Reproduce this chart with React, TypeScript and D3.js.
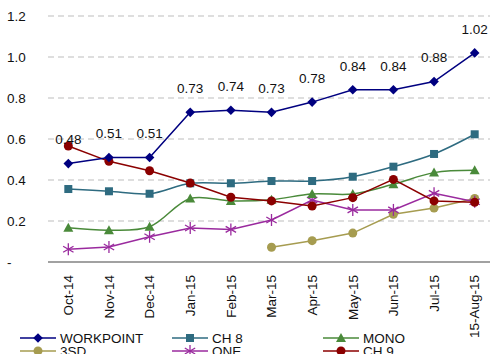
import React from "react";
import * as d3 from "d3";

const categories = ["Oct-14", "Nov-14", "Dec-14", "Jan-15", "Feb-15", "Mar-15", "Apr-15", "May-15", "Jun-15", "Jul-15", "15-Aug-15"];
const workpoint = [0.48, 0.51, 0.51, 0.73, 0.74, 0.73, 0.78, 0.84, 0.84, 0.88, 1.02];
const ch8 = [0.356, 0.345, 0.333, 0.384, 0.384, 0.395, 0.395, 0.416, 0.465, 0.527, 0.623];
const mono = [0.167, 0.155, 0.172, 0.31, 0.298, 0.304, 0.332, 0.332, 0.379, 0.436, 0.447];
const sd3: (number | null)[] = [null, null, null, null, null, 0.072, 0.104, 0.141, 0.233, 0.263, 0.31];
const one = [0.062, 0.073, 0.123, 0.166, 0.159, 0.205, 0.302, 0.254, 0.254, 0.335, 0.294];
const ch9 = [0.566, 0.491, 0.445, 0.385, 0.316, 0.298, 0.273, 0.314, 0.403, 0.298, 0.291];
const yTicks = [0, 0.2, 0.4, 0.6, 0.8, 1.0, 1.2];
const yTickLabels = ["-", "0.2", "0.4", "0.6", "0.8", "1.0", "1.2"];

type Marker = "diamond" | "square" | "triangle" | "circle" | "star";
interface Series { name: string; values: (number | null)[]; color: string; marker: Marker; smooth: boolean; }

const series: Series[] = [
  { name: "3SD", values: sd3, color: "#A69C50", marker: "circle", smooth: false },
  { name: "ONE", values: one, color: "#9A2A9E", marker: "star", smooth: false },
  { name: "MONO", values: mono, color: "#4A8A3A", marker: "triangle", smooth: true },
  { name: "CH 8", values: ch8, color: "#2E6B80", marker: "square", smooth: true },
  { name: "CH 9", values: ch9, color: "#8B0000", marker: "circle", smooth: false },
  { name: "WORKPOINT", values: workpoint, color: "#000080", marker: "diamond", smooth: false },
];

const legendOrder = ["WORKPOINT", "CH 8", "MONO", "3SD", "ONE", "CH 9"];

const W = 490, H = 354;
const left = 48, right = 495, y0 = 262, yTop = 16;
const font = "'Liberation Sans', Arial, sans-serif";
const fs = 13.5;

function MarkerShape({ type, x, y, color }: { type: Marker; x: number; y: number; color: string }) {
  switch (type) {
    case "diamond":
      return <path d={`M${x},${y - 4.8}L${x + 4.8},${y}L${x},${y + 4.8}L${x - 4.8},${y}Z`} fill={color} />;
    case "square":
      return <rect x={x - 4} y={y - 4} width={8} height={8} fill={color} />;
    case "triangle":
      return <path d={`M${x},${y - 5}L${x + 5},${y + 4}L${x - 5},${y + 4}Z`} fill={color} />;
    case "circle":
      return <circle cx={x} cy={y} r={4.5} fill={color} />;
    case "star":
      return (
        <g stroke={color} strokeWidth={1.3}>
          <line x1={x} y1={y - 6} x2={x} y2={y + 6} />
          <line x1={x - 5.2} y1={y - 3} x2={x + 5.2} y2={y + 3} />
          <line x1={x - 5.2} y1={y + 3} x2={x + 5.2} y2={y - 3} />
        </g>
      );
  }
}

export default function App() {
  const x = d3.scaleBand<string>().domain(categories).range([left, right]);
  const y = d3.scaleLinear().domain([0, 1.2]).range([y0, yTop]);
  const cx = (c: string) => (x(c) as number) + x.bandwidth() / 2;

  return (
    <svg width={W} height={H} style={{ position: "absolute", left: 0, top: 0, background: "#fff" }} fontFamily={font}>
      {yTicks.map((t, i) => (
        <g key={t}>
          {t > 0 && (
            <line x1={left} x2={W} y1={y(t)} y2={y(t)} stroke="#bdbdbd" strokeWidth={1} strokeDasharray="6,4" />
          )}
          <text x={7} y={y(t)} dy="0.35em" fontSize={fs} fill="#111">{yTickLabels[i]}</text>
        </g>
      ))}
      <line x1={left} x2={W} y1={y0} y2={y0} stroke="#444" strokeWidth={1.2} />
      {categories.map((c) => (
        <text key={c} transform={`translate(${cx(c)},${y0 + 13}) rotate(-90)`} textAnchor="end" dy="0.35em" fontSize={fs} fill="#111">{c}</text>
      ))}
      {series.map((s) => {
        const pts = categories.map((c, i) => [cx(c), s.values[i]] as [number, number | null]);
        const line = d3.line<[number, number | null]>()
          .defined((d) => d[1] != null)
          .x((d) => d[0])
          .y((d) => y(d[1] as number))
          .curve(s.smooth ? d3.curveCatmullRom.alpha(0.5) : d3.curveLinear);
        return (
          <g key={s.name}>
            <path d={line(pts) || ""} fill="none" stroke={s.color} strokeWidth={1.5} />
            {pts.filter((p) => p[1] != null).map((p, i) => (
              <MarkerShape key={i} type={s.marker} x={p[0]} y={y(p[1] as number)} color={s.color} />
            ))}
          </g>
        );
      })}
      {categories.map((c, i) => (
        <text key={"l" + c} x={cx(c)} y={y(workpoint[i]) - 24} dy="0.35em" textAnchor="middle" fontSize={fs} fill="#111">
          {workpoint[i].toFixed(2)}
        </text>
      ))}
      {legendOrder.map((name, i) => {
        const s = series.find((d) => d.name === name) as Series;
        const col = i % 3, row = Math.floor(i / 3);
        const lx = [20, 172, 323][col];
        const ly = 338 + row * 13;
        return (
          <g key={name}>
            <line x1={lx} x2={lx + 36} y1={ly} y2={ly} stroke={s.color} strokeWidth={1.4} />
            <MarkerShape type={s.marker} x={lx + 18} y={ly} color={s.color} />
            <text x={lx + 40} y={ly} dy="0.35em" fontSize={fs} fill="#111">{name}</text>
          </g>
        );
      })}
    </svg>
  );
}
